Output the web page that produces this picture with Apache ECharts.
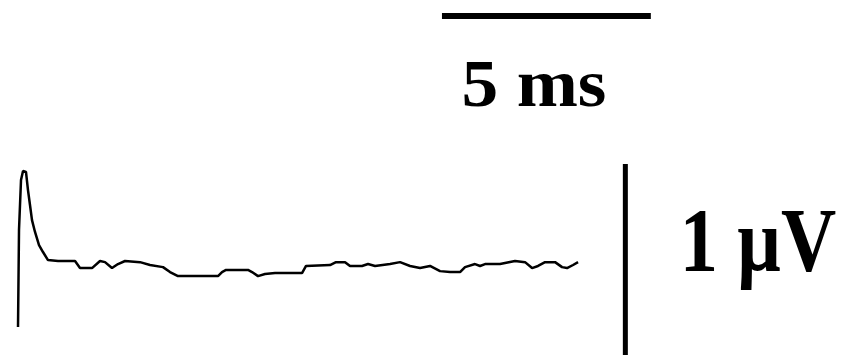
<!DOCTYPE html>
<html>
<head>
<meta charset="utf-8">
<script src="https://cdn.jsdelivr.net/npm/echarts@6/dist/echarts.min.js"></script>
<style>
html,body{margin:0;padding:0;background:#fff;}
#chart{width:848px;height:355px;}
</style>
</head>
<body>
<div id="chart"></div>
<script>
// Time (ms) of each trace sample
var traceTime = [0.431,0.455,0.503,0.551,0.622,0.670,0.718,0.766,0.838,0.934,1.029,1.149,1.389,1.796,1.915,2.203,2.394,2.514,2.681,2.825,2.993,3.352,3.591,3.902,4.070,4.261,5.219,5.315,5.411,5.937,6.033,6.177,6.344,6.584,7.230,7.326,7.900,8.044,8.260,8.379,8.666,8.810,8.978,9.337,9.576,9.816,10.055,10.294,10.534,10.773,11.013,11.132,11.372,11.492,11.611,11.970,12.329,12.569,12.737,12.880,13.048,13.287,13.455,13.574,13.718,13.838];
// Amplitude (µV) of each trace sample
var traceVolt = [-0.330,0.178,0.440,0.487,0.482,0.387,0.309,0.230,0.168,0.099,0.063,0.021,0.016,0.016,-0.021,-0.021,0.016,0.010,-0.021,0,0.016,0.010,-0.005,-0.016,-0.042,-0.063,-0.063,-0.042,-0.031,-0.031,-0.042,-0.063,-0.052,-0.047,-0.047,-0.010,-0.005,0.010,0.010,-0.010,-0.010,0,-0.010,0,0.010,-0.010,-0.021,-0.010,-0.037,-0.042,-0.042,-0.016,0,-0.010,0,0,0.016,0.010,-0.021,-0.010,0.010,0.010,-0.016,-0.021,-0.005,0.010];
// Scale bars
var timeBarStart = 10.58;   // ms
var timeBarLength = 5;      // ms
var timeBarLevel = 1.298;   // µV
var voltBarTime = 14.97;    // ms
var voltBarTop = 0.524;     // µV
var voltBarLength = 1;      // µV
var timeBarLabel = '5 ms';
var voltBarLabel = '1 µV';
// Axis ranges
var xMin = 0, xMax = 20.3;
var yMin = -0.476, yMax = 1.382;

var trace = traceTime.map(function(t, i){ return [t, traceVolt[i]]; });
var timeBar = [[timeBarStart, timeBarLevel], [timeBarStart + timeBarLength, timeBarLevel]];
var voltBar = [[voltBarTime, voltBarTop], [voltBarTime, voltBarTop - voltBarLength]];

var chart = echarts.init(document.getElementById('chart'), null, {renderer:'canvas'});
chart.setOption({
  animation: false,
  backgroundColor: '#fff',
  grid: {left:0, right:0, top:0, bottom:0},
  xAxis: {type:'value', min:xMin, max:xMax, show:false, splitLine:{show:false}},
  yAxis: {type:'value', min:yMin, max:yMax, show:false, splitLine:{show:false}},
  series: [
    {type:'line', data:trace, symbol:'none', lineStyle:{color:'#000', width:2.5}, silent:true},
    {type:'line', data:timeBar, symbol:'none', lineStyle:{color:'#000', width:6, cap:'butt'}, silent:true},
    {type:'line', data:voltBar, symbol:'none', lineStyle:{color:'#000', width:5, cap:'butt'}, silent:true}
  ],
  graphic: [
    {type:'text', x:534, y:88, scaleX:1.08, style:{text:timeBarLabel, x:0, y:0, textAlign:'center', textVerticalAlign:'middle', font:'bold 68px "Liberation Serif", "Times New Roman", serif', fill:'#000'}},
    {type:'text', x:758, y:248, scaleX:0.85, style:{text:voltBarLabel, x:0, y:0, textAlign:'center', textVerticalAlign:'middle', font:'bold 90px "Liberation Serif", "Times New Roman", serif', fill:'#000'}}
  ]
});
</script>
</body>
</html>
